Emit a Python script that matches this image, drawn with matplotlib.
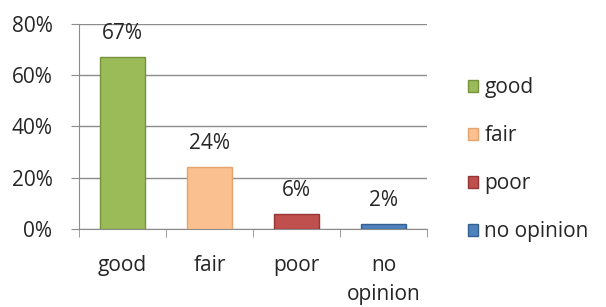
import numpy as np
import matplotlib.pyplot as plt

categories = ['good', 'fair', 'poor', 'no\nopinion']
legend_names = ['good', 'fair', 'poor', 'no opinion']
values = [67, 24, 6, 2]
colors = ['#9BBB59', '#FAC090', '#C0504D', '#4F81BD']
edges = ['#76923C', '#E3A46F', '#943634', '#365F91']

plt.rcParams['font.family'] = ['Open Sans', 'DejaVu Sans']
fs = 15
txt = '#262626'

fig = plt.figure(figsize=(6.06, 3.07), dpi=100)
ax = fig.add_axes([0.130, 0.254, 0.575, 0.668])

x = np.arange(len(categories))
bars = ax.bar(x, values, width=0.52, color=colors, edgecolor=edges, linewidth=1, zorder=3)

for b, v in zip(bars, values):
    ax.annotate(f'{v}%', (b.get_x() + b.get_width() / 2, v), xytext=(0, 17),
                textcoords='offset points', ha='center', va='center', fontsize=fs, color=txt)

ax.set_xlim(-0.5, len(categories) - 0.5)
ax.set_ylim(0, 80)
ax.set_yticks(range(0, 81, 20))
ax.set_yticklabels([f'{t}%' for t in range(0, 81, 20)], fontsize=fs, color=txt)
ax.yaxis.grid(True, color='#8C8C8C', linewidth=1, zorder=0)

ax.set_xticks(x)
ax.set_xticklabels(categories, fontsize=fs, color=txt, linespacing=1.5)
ax.set_xticks(np.arange(-0.5, len(categories)), minor=True)
ax.tick_params(axis='x', which='major', length=0, pad=19)
ax.tick_params(axis='x', which='minor', length=6, color='#8C8C8C')
ax.tick_params(axis='y', length=6, color='#8C8C8C', pad=13)

for s in ['top', 'right']:
    ax.spines[s].set_visible(False)
for s in ['left', 'bottom']:
    ax.spines[s].set_color('#8C8C8C')

handles = [plt.Rectangle((0, 0), 1, 1, facecolor=c, edgecolor=e) for c, e in zip(colors, edges)]
fig.legend(handles, legend_names, loc='center left', bbox_to_anchor=(0.772, 0.48), frameon=False,
           fontsize=fs, handlelength=0.5, handleheight=0.5, handletextpad=0.3, labelspacing=1.3,
           labelcolor=txt, borderpad=0, borderaxespad=0)

fig.savefig('out.png', dpi=100)
